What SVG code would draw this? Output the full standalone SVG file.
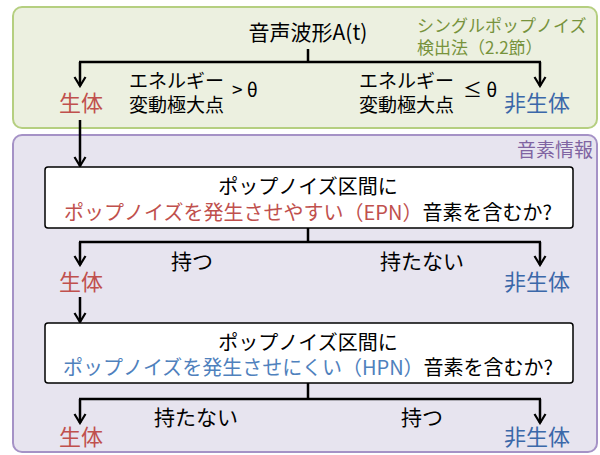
<svg xmlns="http://www.w3.org/2000/svg" width="600" height="455" viewBox="0 0 600 455">
<style>
text{font-family:"Noto Sans CJK JP","Noto Sans",sans-serif;fill:#000}
.c{stroke:#000;stroke-width:2.5;fill:none}
.red{fill:#c0504d}
.blue{fill:#3b68a9}
.lblue{fill:#4f81bd}
.t22{font-size:22px}
.t19{font-size:19px}
.t20{font-size:20px}
.t21{font-size:21px}
.box{fill:#fff;stroke:#000;stroke-width:1.5}
</style>
<defs>
<marker id="ah" markerWidth="14" markerHeight="14" viewBox="0 0 14 14" refX="12" refY="7" orient="auto" markerUnits="userSpaceOnUse">
<path d="M3,1.5 L12,7 L3,12.5" fill="none" stroke="#000" stroke-width="2.2"/>
</marker>
</defs>
<g id="group-single">
<rect x="13" y="7" width="584" height="121" rx="9" fill="#ecf0e0" stroke="#b5cf80" stroke-width="2"/>
<text x="417" y="32" font-size="17" style="fill:#77933c">シングルポップノイズ</text>
<text x="417" y="54" font-size="17" style="fill:#77933c">検出法（2.2節）</text>
</g>
<g id="group-phoneme">
<rect x="13" y="135" width="584" height="317" rx="9" fill="#e7e4ef" stroke="#a592c6" stroke-width="2"/>
<text x="593" y="157" class="t19" text-anchor="end" style="fill:#8064a2">音素情報</text>
</g>
<g id="connectors">
<path class="c" d="M308,49 V62 M79,62 H541"/>
<path class="c" d="M80,62 V86" marker-end="url(#ah)"/>
<path class="c" d="M540,62 V86" marker-end="url(#ah)"/>
<path class="c" d="M80,120 V166" marker-end="url(#ah)"/>
<path class="c" d="M308,228 V242 M79,242 H541"/>
<path class="c" d="M80,242 V265" marker-end="url(#ah)"/>
<path class="c" d="M540,242 V265" marker-end="url(#ah)"/>
<path class="c" d="M80,297 V322" marker-end="url(#ah)"/>
<path class="c" d="M308,383 V399 M79,399 H541"/>
<path class="c" d="M80,399 V423" marker-end="url(#ah)"/>
<path class="c" d="M540,399 V423" marker-end="url(#ah)"/>
</g>
<g id="n-input">
<text x="308" y="40" class="t21" text-anchor="middle">音声波形A(t)</text>
</g>
<g id="labels-1">
<text x="129" y="88" class="t19">エネルギー</text>
<text x="129" y="112" class="t19">変動極大点</text>
<text x="232" y="97" class="t19">&gt; θ</text>
<text x="359" y="88" class="t19">エネルギー</text>
<text x="359" y="112" class="t19">変動極大点</text>
<text x="463" y="97" class="t19">≤ θ</text>
</g>
<g id="n-live1"><text x="81" y="111" class="t22 red" text-anchor="middle">生体</text></g>
<g id="n-nonlive1"><text x="537" y="111" class="t22 blue" text-anchor="middle">非生体</text></g>
<g id="n-box1">
<rect class="box" x="45" y="167" width="528" height="61" rx="3"/>
<text x="308" y="194" class="t20" text-anchor="middle">ポップノイズ区間に</text>
<text x="308" y="220" class="t20" text-anchor="middle"><tspan class="red">ポップノイズを発生させやすい（EPN）</tspan><tspan>音素を含むか?</tspan></text>
</g>
<g id="labels-2">
<text x="171" y="269" class="t21">持つ</text>
<text x="380" y="269" class="t21">持たない</text>
</g>
<g id="n-live2"><text x="81" y="290" class="t22 red" text-anchor="middle">生体</text></g>
<g id="n-nonlive2"><text x="537" y="290" class="t22 blue" text-anchor="middle">非生体</text></g>
<g id="n-box2">
<rect class="box" x="45" y="323" width="528" height="60" rx="3"/>
<text x="308" y="350" class="t20" text-anchor="middle">ポップノイズ区間に</text>
<text x="308" y="375" class="t20" text-anchor="middle"><tspan class="lblue">ポップノイズを発生させにくい（HPN）</tspan><tspan>音素を含むか?</tspan></text>
</g>
<g id="labels-3">
<text x="154" y="425" class="t21">持たない</text>
<text x="401" y="425" class="t21">持つ</text>
</g>
<g id="n-live3"><text x="81" y="445" class="t22 red" text-anchor="middle">生体</text></g>
<g id="n-nonlive3"><text x="537" y="445" class="t22 blue" text-anchor="middle">非生体</text></g>
</svg>
